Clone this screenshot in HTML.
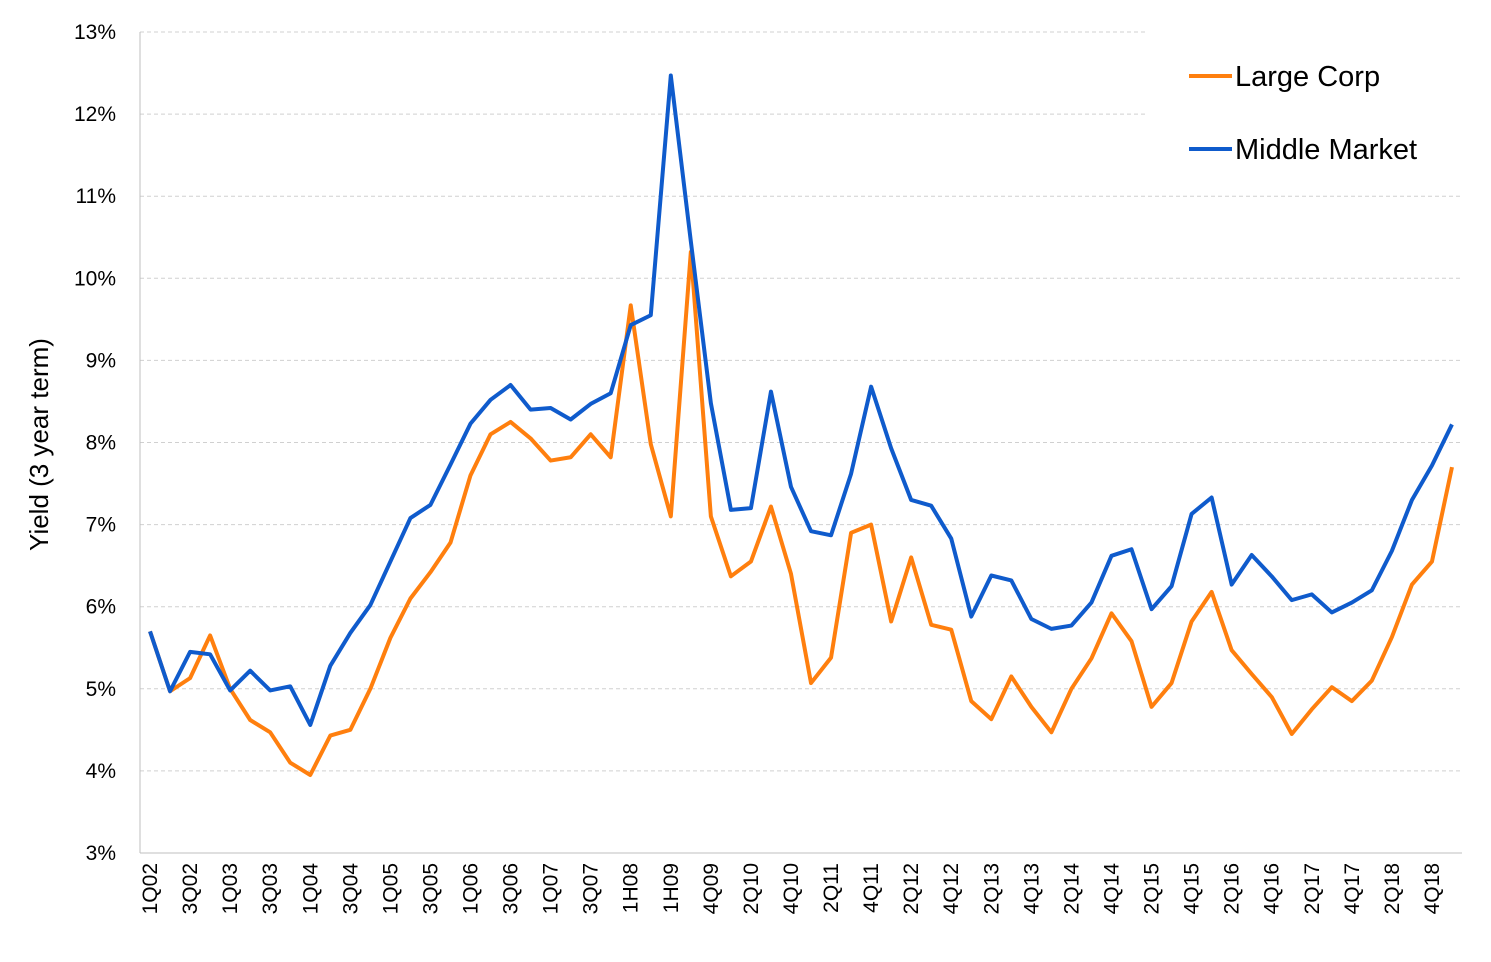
<!DOCTYPE html>
<html><head><meta charset="utf-8"><style>
body{margin:0;background:#fff;}
svg{display:block;font-family:"Liberation Sans",sans-serif;}
</style></head><body>
<svg id="chart" width="1491" height="962" xmlns="http://www.w3.org/2000/svg"></svg>
<script>
const categories=["1Q02","2Q02","3Q02","4Q02","1Q03","2Q03","3Q03","4Q03","1Q04","2Q04","3Q04","4Q04","1Q05","2Q05","3Q05","4Q05","1Q06","2Q06","3Q06","4Q06","1Q07","2Q07","3Q07","4Q07","1H08","2H08","1H09","3Q09","4Q09","1Q10","2Q10","3Q10","4Q10","1Q11","2Q11","3Q11","4Q11","1Q12","2Q12","3Q12","4Q12","1Q13","2Q13","3Q13","4Q13","1Q14","2Q14","3Q14","4Q14","1Q15","2Q15","3Q15","4Q15","1Q16","2Q16","3Q16","4Q16","1Q17","2Q17","3Q17","4Q17","1Q18","2Q18","3Q18","4Q18","1Q19"];
const largeCorp=[5.7,4.97,5.13,5.65,5.0,4.62,4.47,4.1,3.95,4.43,4.5,5.0,5.62,6.1,6.42,6.78,7.6,8.1,8.25,8.05,7.78,7.82,8.1,7.82,9.67,7.98,7.1,10.32,7.1,6.37,6.55,7.22,6.4,5.07,5.38,6.9,7.0,5.82,6.6,5.78,5.72,4.85,4.63,5.15,4.78,4.47,5.0,5.37,5.92,5.58,4.78,5.07,5.82,6.18,5.47,5.18,4.9,4.45,4.75,5.02,4.85,5.1,5.63,6.27,6.55,7.7];
const middleMarket=[5.7,4.97,5.45,5.42,4.98,5.22,4.98,5.03,4.56,5.28,5.68,6.02,6.55,7.08,7.24,7.73,8.23,8.52,8.7,8.4,8.42,8.28,8.47,8.6,9.43,9.55,12.47,10.45,8.48,7.18,7.2,8.62,7.46,6.92,6.87,7.62,8.68,7.93,7.3,7.23,6.83,5.88,6.38,6.32,5.85,5.73,5.77,6.05,6.62,6.7,5.97,6.25,7.13,7.33,6.27,6.63,6.37,6.08,6.15,5.93,6.05,6.2,6.68,7.3,7.72,8.22];
const yTicks=[3,4,5,6,7,8,9,10,11,12,13];

const svg=document.getElementById('chart');
const NS="http://www.w3.org/2000/svg";
const L=140,R=1462,T=32,B=853,yMin=3,yMax=13;
const bw=(R-L)/categories.length;
const x=i=>L+(i+0.5)*bw;
const y=v=>B-(v-yMin)/(yMax-yMin)*(B-T);
function mk(tag,attrs,parent){const e=document.createElementNS(NS,tag);for(const k in attrs)e.setAttribute(k,attrs[k]);(parent||svg).appendChild(e);return e;}

yTicks.forEach(t=>{
  if(t>yMin){const g=mk('line',{x1:L,x2:R,y1:y(t),y2:y(t),stroke:'#d0d0d0','stroke-width':1,'stroke-dasharray':'4,3'});
  
  }
  const tx=mk('text',{x:116,y:y(t)+7,'text-anchor':'end','font-size':21,fill:'#000'});
  tx.textContent=t+'%';
  
  
});
const ax=mk('line',{x1:L,x2:L,y1:T,y2:B,stroke:'#bfbfbf','stroke-width':1});


const bx=mk('line',{x1:L,x2:R,y1:B,y2:B,stroke:'#bfbfbf','stroke-width':1});



categories.forEach((c,i)=>{
  if(i%2===0){
    const tx=mk('text',{transform:`translate(${x(i)+7},${B+10}) rotate(-90)`,'text-anchor':'end','font-size':21,fill:'#000'});
    tx.textContent=c;
    
    
  }
});

const yt=mk('text',{transform:`translate(48,${(T+B)/2+2}) rotate(-90)`,'text-anchor':'middle','font-size':26,fill:'#000'});
yt.textContent='Yield (3 year term)';



function line(data,color,name){
  const p=mk('polyline',{points:data.map((v,i)=>x(i)+','+y(v)).join(' '),fill:'none',stroke:color,'stroke-width':4,'stroke-linejoin':'round'});
  
  
}
const lg=mk('rect',{x:1148,y:20,width:314,height:145,fill:'#fff'});


line(largeCorp,'#ff7f0e','large-corp-line');
line(middleMarket,'#0f5bcc','middle-market-line');

[['Large Corp','#ff7f0e',76],['Middle Market','#0f5bcc',149]].forEach(([n,c,yy])=>{
  const g=mk('g',{});
  
  
  mk('line',{x1:1189,x2:1232,y1:yy,y2:yy,stroke:c,'stroke-width':4},g);
  const t=mk('text',{x:1235,y:yy+10,'font-size':29,fill:'#000'},g);
  t.textContent=n;
});
</script>
</body></html>
